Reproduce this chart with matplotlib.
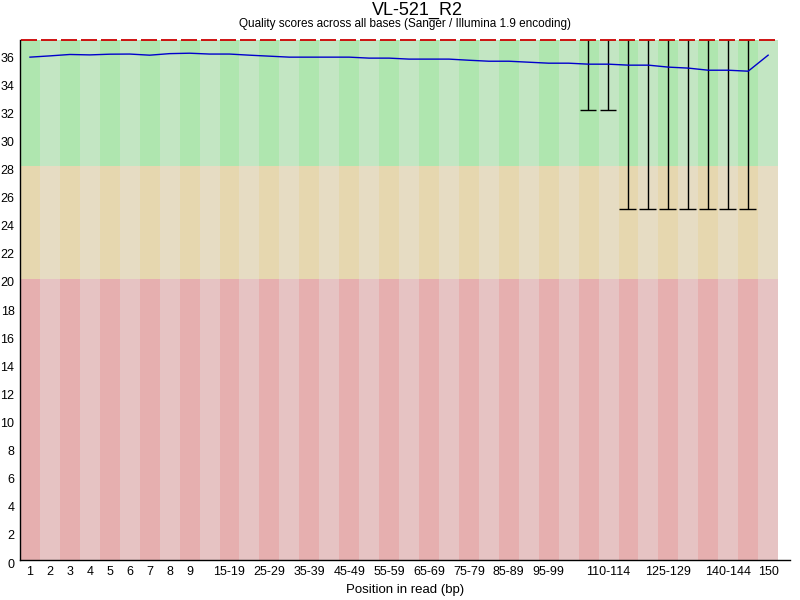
import matplotlib
matplotlib.use("Agg")
import matplotlib.pyplot as plt
import matplotlib.transforms as mtrans

plt.rcParams['font.family'] = ['Liberation Sans', 'DejaVu Sans']

# bins of the read (FastQC grouping)
bins = ["1", "2", "3", "4", "5", "6", "7", "8", "9",
        "10-14", "15-19", "20-24", "25-29", "30-34", "35-39", "40-44", "45-49",
        "50-54", "55-59", "60-64", "65-69", "70-74", "75-79", "80-84", "85-89",
        "90-94", "95-99", "100-104", "105-109", "110-114", "115-119", "120-124",
        "125-129", "130-134", "135-139", "140-144", "145-149", "150"]

# labels that are actually drawn under the axis
shown = ["1", "2", "3", "4", "5", "6", "7", "8", "9", "15-19", "25-29", "35-39",
         "45-49", "55-59", "65-69", "75-79", "85-89", "95-99", "110-114",
         "125-129", "140-144", "150"]

mean_q = [35.78, 35.87, 35.97, 35.94, 35.99, 36.00, 35.92, 36.03, 36.06, 36.00,
          36.00, 35.92, 35.85, 35.78, 35.78, 35.78, 35.78, 35.71, 35.71, 35.64,
          35.64, 35.64, 35.56, 35.49, 35.49, 35.42, 35.35, 35.35, 35.28, 35.28,
          35.21, 35.21, 35.07, 35.00, 34.85, 34.85, 34.78, 35.92]

median_q = [37] * 38
upper_q = [37] * 38
lower_q = [37] * 28 + [32, 32] + [25] * 7 + [37]

y_ticks = list(range(0, 37, 2))

# FastQC background colours
good = ["#c3e6c3", "#afe6af"]
bad = ["#e6dcc3", "#e6d7af"]
ugly = ["#e6c3c3", "#e6afaf"]

fig = plt.figure(figsize=(8, 6), dpi=100)
ax = fig.add_axes([20 / 800, 40 / 600, 770 / 800, 520 / 600])

ymax = 37
n = len(bins)
for i in range(n):
    shade = 1 if i % 2 == 0 else 0
    # slight overlap so no white seams show between neighbouring bins
    w = 1.0 if i == n - 1 else 1.06
    ax.bar(i, 20, width=w, bottom=0, align='edge', color=ugly[shade],
           linewidth=0, antialiased=False)
    ax.bar(i, 8, width=w, bottom=20, align='edge', color=bad[shade],
           linewidth=0, antialiased=False)
    ax.bar(i, ymax - 28, width=w, bottom=28, align='edge', color=good[shade],
           linewidth=0, antialiased=False)

# whiskers (10th - 90th percentile)
for i in range(n):
    if lower_q[i] < upper_q[i]:
        ax.vlines(i + 0.47, lower_q[i], upper_q[i], color="black", lw=1)
        ax.hlines(lower_q[i], i + 0.05, i + 0.88, color="black", lw=1)

# medians
for i in range(n):
    ax.hlines(median_q[i], i + 0.05, i + 0.85, color="#cc0000", lw=1.3, clip_on=False)

# mean line
ax.plot([i + 0.5 for i in range(n)], mean_q, color="#0000cc", lw=1)

ax.set_xlim(0, 770 / 19.95)
ax.set_ylim(0, ymax)

ax.set_yticks(y_ticks)
ax.set_yticklabels([str(t) for t in y_ticks], fontsize=9)
ax.set_xticks([i + 0.5 for i, b in enumerate(bins) if b in shown])
ax.set_xticklabels([b for b in bins if b in shown], fontsize=9)
ax.tick_params(length=0, pad=4)

# FastQC draws y labels a little below their grid value
shift = mtrans.ScaledTranslation(0, -3 / 100, fig.dpi_scale_trans)
for lab in ax.get_yticklabels():
    lab.set_transform(lab.get_transform() + shift)

ax.spines['top'].set_visible(False)
ax.spines['right'].set_visible(False)
ax.spines['left'].set_linewidth(1)
ax.spines['bottom'].set_linewidth(1)

fig.text(0.522, 1 - 10 / 600, "VL-521_R2", ha='center', va='center', fontsize=13)
fig.text(405 / 800, 1 - 24 / 600,
         "Quality scores across all bases (Sanger / Illumina 1.9 encoding)",
         ha='center', va='center', fontsize=8.5)
fig.text(405 / 800, 1 - 590 / 600, "Position in read (bp)",
         ha='center', va='center', fontsize=9.5)

fig.savefig("out.png", dpi=100)
